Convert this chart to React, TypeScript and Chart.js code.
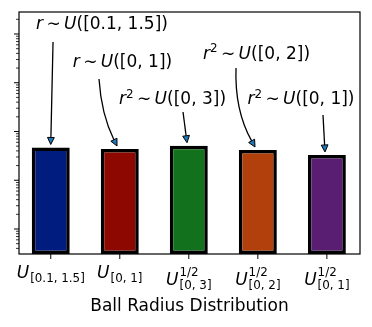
import { useEffect, useRef } from 'react';
import { Chart, registerables } from 'chart.js';

Chart.register(...registerables);

// ---- data ----
const categories = ['U[0.1,1.5]', 'U[0,1]', 'U1/2[0,3]', 'U1/2[0,2]', 'U1/2[0,1]'];
const tickSub = ['[0.1, 1.5]', '[0, 1]', '[0, 3]', '[0, 2]', '[0, 1]'];
const tickSup = ['', '', '1/2', '1/2', '1/2'];
const values = [0.47, 0.438, 0.511, 0.418, 0.33];
const barColors = ['#001c7f', '#8c0800', '#12711c', '#b1400d', '#591e71'];

const annoPower = ['', '', '2', '2', '2'];
const annoRange = ['[0.1, 1.5]', '[0, 1]', '[0, 3]', '[0, 2]', '[0, 1]'];
const annoTextX = [0.742, 1.039, 1.764, 2.981, 3.625];
const annoTextY = [126.7, 21.0, 3.66, 30.7, 3.66];
const annoBar = [0, 1, 2, 3, 4];
// arrows, listed per bar
const arrowTailX = [0.033, 0.699, 1.916, 2.684, 3.944];
const arrowTailY = [68.5, 11.9, 2.51, 20.1, 2.18];
const arrowTipX = [0.0, 0.96, 1.974, 2.959, 3.973];
const arrowRad = [0, 0.1, 0, 0.14, 0];

const yMin = 0.00307;
const yMax = 282.5;
const xMin = -0.46;
const xMax = 4.48;
const xTitle = 'Ball Radius Distribution';

const FONT = "'DejaVu Sans', 'Noto Sans', sans-serif";

type Seg = { t: string; it?: boolean; size: number; dy?: number; gap?: number };

function drawSegs(ctx: CanvasRenderingContext2D, segs: Seg[], cx: number, base: number) {
  const widths = segs.map((s) => {
    ctx.font = `${s.it ? 'italic ' : ''}${s.size}px ${FONT}`;
    return ctx.measureText(s.t).width + (s.gap || 0) * 2;
  });
  const total = widths.reduce((a, b) => a + b, 0);
  let x = cx - total / 2;
  ctx.textBaseline = 'alphabetic';
  ctx.textAlign = 'left';
  segs.forEach((s, i) => {
    ctx.font = `${s.it ? 'italic ' : ''}${s.size}px ${FONT}`;
    ctx.fillText(s.t, x + (s.gap || 0), base + (s.dy || 0));
    x += widths[i];
  });
}

const decorPlugin = {
  id: 'decor',
  afterDraw(chart: any) {
    const { ctx, chartArea } = chart;
    const xs = chart.scales.x;
    const ys = chart.scales.y;
    const { left, right, top, bottom } = chartArea;
    ctx.save();
    ctx.fillStyle = '#000';
    ctx.strokeStyle = '#000';

    // spines
    ctx.lineWidth = 1.2;
    ctx.strokeRect(left, top, right - left, bottom - top);

    // y log ticks
    for (let d = -4; d <= 3; d++) {
      for (let k = 1; k <= 9; k++) {
        const v = k * Math.pow(10, d);
        if (v < yMin || v > yMax) continue;
        const py = ys.getPixelForValue(v);
        const len = k === 1 ? 5 : 3;
        ctx.lineWidth = k === 1 ? 1 : 0.8;
        ctx.beginPath();
        ctx.moveTo(left - len, py);
        ctx.lineTo(left, py);
        ctx.stroke();
      }
    }

    // x ticks + labels
    const main = 17;
    const small = 11.9;
    categories.forEach((_, i) => {
      const px = xs.getPixelForValue(i);
      ctx.lineWidth = 1;
      ctx.beginPath();
      ctx.moveTo(px, bottom);
      ctx.lineTo(px, bottom + 5);
      ctx.stroke();

      const hasSup = tickSup[i] !== '';
      const ub = bottom + (hasSup ? 31 : 24);
      ctx.font = `italic ${main}px ${FONT}`;
      const wU = ctx.measureText('U').width;
      ctx.font = `${small}px ${FONT}`;
      const wSub = ctx.measureText(tickSub[i]).width;
      const wSup = hasSup ? ctx.measureText(tickSup[i]).width : 0;
      const total = wU + Math.max(wSub, wSup) + 1;
      const x0 = px - total / 2;
      ctx.textAlign = 'left';
      ctx.textBaseline = 'alphabetic';
      ctx.font = `italic ${main}px ${FONT}`;
      ctx.fillText('U', x0, ub);
      ctx.font = `${small}px ${FONT}`;
      ctx.fillText(tickSub[i], x0 + wU + 1, ub + 4);
      if (hasSup) ctx.fillText(tickSup[i], x0 + wU + 1, ub - 9);
    });

    // x title
    ctx.font = `${main}px ${FONT}`;
    ctx.textAlign = 'center';
    ctx.fillText(xTitle, (left + right) / 2, bottom + 57);

    // annotation texts
    annoBar.forEach((b, i) => {
      const cx = xs.getPixelForValue(annoTextX[i]);
      const base = ys.getPixelForValue(annoTextY[i]);
      const segs: Seg[] = [{ t: 'r', it: true, size: main }];
      if (annoPower[i]) segs.push({ t: annoPower[i], size: small, dy: -6.5 });
      segs.push({ t: '\u223C', size: main, gap: main * 0.2 });
      segs.push({ t: 'U', it: true, size: main });
      segs.push({ t: '(' + annoRange[i] + ')', size: main });
      ctx.fillStyle = '#000';
      drawSegs(ctx, segs, cx, base);
    });

    // arrows
    annoBar.forEach((b, i) => {
      const tx = xs.getPixelForValue(arrowTailX[i]);
      const ty = ys.getPixelForValue(arrowTailY[i]);
      const hx = xs.getPixelForValue(arrowTipX[i]);
      const hy = ys.getPixelForValue(values[b]) - 3;
      const dx = hx - tx;
      const dy = hy - ty;
      const mx = (tx + hx) / 2;
      const my = (ty + hy) / 2;
      const f = arrowRad[i];
      const cxp = mx - f * dy;
      const cyp = my + f * dx;
      let ux = hx - cxp;
      let uy = hy - cyp;
      const ul = Math.hypot(ux, uy) || 1;
      ux /= ul;
      uy /= ul;
      const hl = 7;
      const hw = 3.4;
      const bx = hx - ux * hl;
      const by = hy - uy * hl;
      ctx.strokeStyle = '#000';
      ctx.lineWidth = 1.3;
      ctx.beginPath();
      ctx.moveTo(tx, ty);
      ctx.quadraticCurveTo(cxp, cyp, bx, by);
      ctx.stroke();
      ctx.beginPath();
      ctx.moveTo(hx, hy);
      ctx.lineTo(bx - uy * hw, by + ux * hw);
      ctx.lineTo(bx + uy * hw, by - ux * hw);
      ctx.closePath();
      ctx.fillStyle = '#1f77b4';
      ctx.fill();
      ctx.lineWidth = 1;
      ctx.stroke();
    });

    ctx.restore();
  },
};

export default function App() {
  const ref = useRef<HTMLCanvasElement | null>(null);
  useEffect(() => {
    if (!ref.current) return;
    const chart = new Chart(ref.current, {
      type: 'bar',
      data: {
        datasets: [
          {
            data: values.map((v, i) => ({ x: i, y: v })),
            backgroundColor: barColors,
            borderColor: '#000',
            borderWidth: 3.5,
            borderSkipped: false,
            barPercentage: 0.55,
            categoryPercentage: 1,
          },
        ],
      },
      options: {
        animation: false,
        responsive: true,
        maintainAspectRatio: false,
        layout: { padding: { top: 12, right: 12, left: 0, bottom: 0 } },
        plugins: { legend: { display: false }, tooltip: { enabled: false } },
        scales: {
          x: {
            type: 'linear',
            offset: false,
            min: xMin,
            max: xMax,
            ticks: { display: false },
            grid: { display: false, offset: false },
            border: { display: false },
            afterFit: (s: any) => {
              s.height = 73;
            },
          },
          y: {
            type: 'logarithmic',
            min: yMin,
            max: yMax,
            ticks: { display: false },
            grid: { display: false },
            border: { display: false },
            afterFit: (s: any) => {
              s.width = 19;
            },
          },
        },
      },
      plugins: [decorPlugin],
    });
    return () => chart.destroy();
  }, []);
  return (
    <div style={{ position: 'fixed', left: 0, top: 0, width: 372, height: 327, background: '#fff' }}>
      <canvas ref={ref} />
    </div>
  );
}
